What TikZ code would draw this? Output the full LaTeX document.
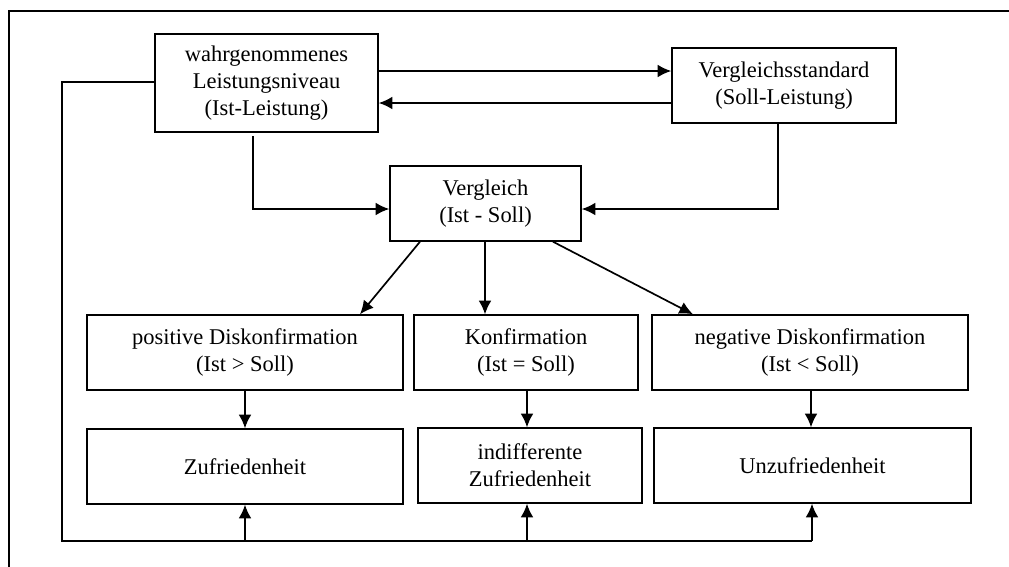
\documentclass[tikz,border=0pt]{standalone}
\usepackage{fontspec}
\setmainfont{Liberation Serif}
\usetikzlibrary{arrows.meta}

\begin{document}
\begin{tikzpicture}[x=0.025cm,y=-0.025cm,
  >={Latex[length=0.34cm,width=0.32cm]},
  box/.style={draw, line width=1pt, align=center, inner sep=2pt,
    font=\fontsize{16}{19.2}\selectfont},
  line/.style={line width=1.2pt}]
\useasboundingbox (0,0) rectangle (1009,567);

\draw[line width=0.8pt] (9,567) -- (9,11) -- (1009,11);

\node[box, minimum width=5.575cm, minimum height=2.45cm] (ist) at (266.5,83)
  {wahrgenommenes\\Leistungsniveau\\(Ist-Leistung)};
\node[box, minimum width=5.6cm, minimum height=1.875cm] (soll) at (784,85.5)
  {Vergleichsstandard\\(Soll-Leistung)};
\node[box, minimum width=4.775cm, minimum height=1.875cm] (vgl) at (485.5,203.5)
  {Vergleich\\(Ist - Soll)};

\node[box, minimum width=7.9cm, minimum height=1.875cm] (pos) at (245,352.5)
  {positive Diskonfirmation\\(Ist > Soll)};
\node[box, minimum width=5.6cm, minimum height=1.875cm] (konf) at (526,352.5)
  {Konfirmation\\(Ist = Soll)};
\node[box, minimum width=7.9cm, minimum height=1.875cm] (neg) at (810,352.5)
  {negative Diskonfirmation\\(Ist < Soll)};

\node[box, minimum width=7.9cm, minimum height=1.875cm] (zuf) at (245,466.5)
  {Zufriedenheit};
\node[box, minimum width=5.6cm, minimum height=1.875cm] (ind) at (530,465.5)
  {indifferente\\Zufriedenheit};
\node[box, minimum width=7.925cm, minimum height=1.875cm] (unz) at (812.5,465.5)
  {Unzufriedenheit};

\draw[line,->] (ist.east |- 0,71) -- (soll.west |- 0,71);
\draw[line,->] (soll.west |- 0,103) -- (ist.east |- 0,103);

\draw[line,->] (253,136) |- (vgl.west |- 0,209);
\draw[line,->] (soll.south -| 778,0) |- (vgl.east |- 0,209);

\draw[line,->] (vgl.south -| 420,0) -- (pos.north -| 360,0);
\draw[line,->] (vgl.south -| 485,0) -- (konf.north -| 485,0);
\draw[line,->] (vgl.south -| 553,0) -- (neg.north -| 693,0);

\draw[line,->] (pos.south) -- (zuf.north);
\draw[line,->] (konf.south -| 527,0) -- (ind.north -| 527,0);
\draw[line,->] (neg.south -| 811,0) -- (unz.north -| 811,0);

\coordinate (fb) at (62,541);
\draw[line] (ist.west |- 0,82) -| (fb) -- (812,541);
\draw[line,->] (zuf.south |- fb) -- (zuf.south);
\draw[line,->] (527,541) -- (ind.south -| 527,0);
\draw[line,->] (812,541) -- (unz.south -| 812,0);

\end{tikzpicture}
\end{document}
